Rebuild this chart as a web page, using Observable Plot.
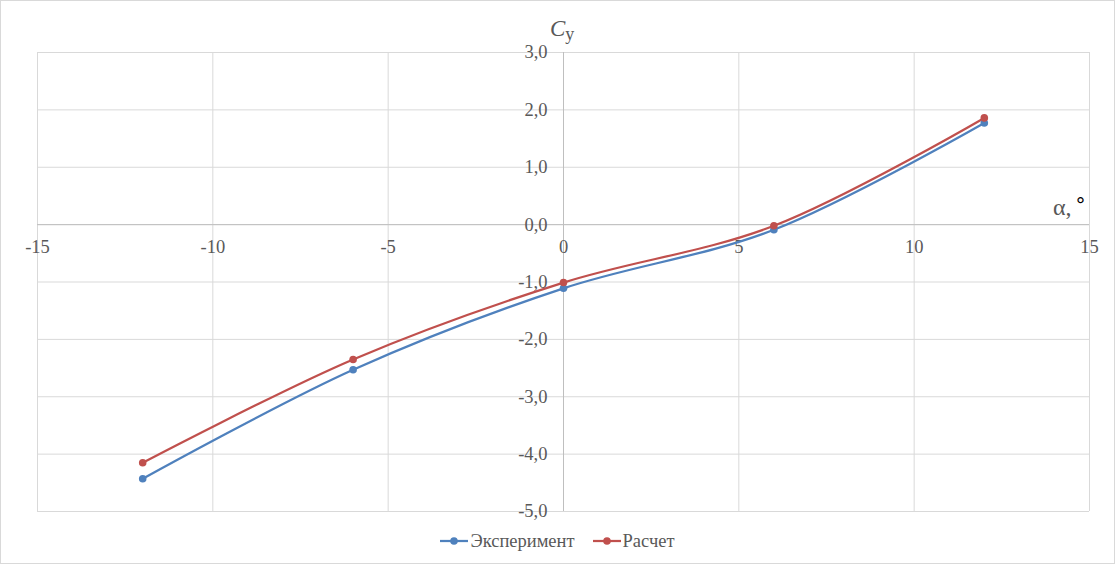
<!DOCTYPE html>
<html><head><meta charset="utf-8">
<script src="https://cdn.jsdelivr.net/npm/d3@7"></script>
<script src="https://cdn.jsdelivr.net/npm/@observablehq/plot@0.6"></script>
<style>
html,body{margin:0;padding:0;background:#fff;}
#wrap{position:relative;width:1113px;height:562px;border:1px solid #d9d9d9;overflow:hidden;background:#fff;}
#legend{position:absolute;left:0;top:523px;width:1113px;height:34px;display:flex;justify-content:center;align-items:center;gap:18px;font-family:"Liberation Serif","Times New Roman",serif;font-size:18.5px;color:#595959;}
.item{display:flex;align-items:center;gap:2px;}
</style></head>
<body>
<div id="wrap"><div id="chart"></div><div id="legend"></div></div>
<script>
const alpha = [-12, -6, 0, 6, 12];
const experiment = [-4.43, -2.53, -1.11, -0.09, 1.77];
const calculation = [-4.15, -2.35, -1.01, -0.02, 1.86];
const seriesNames = ["Эксперимент", "Расчет"];
const seriesColors = ["#4f81bd", "#c0504d"];
const xTicks = [-15, -10, -5, 0, 5, 10, 15];
const yTicks = [-5, -4, -3, -2, -1, 0, 1, 2, 3];
const yTickLabels = ["-5,0", "-4,0", "-3,0", "-2,0", "-1,0", "0,0", "1,0", "2,0", "3,0"];

const serif = "'Liberation Serif','Times New Roman',serif";
const rows = [];
alpha.forEach((a, i) => {
  rows.push({a, v: experiment[i], s: seriesNames[0]});
});
alpha.forEach((a, i) => {
  rows.push({a, v: calculation[i], s: seriesNames[1]});
});
const yLabelRows = yTicks.map((t, i) => ({t, label: yTickLabels[i]}));

const plot = Plot.plot({
  width: 1113,
  height: 524,
  marginLeft: 36,
  marginRight: 25,
  marginTop: 51,
  marginBottom: 14,
  style: {fontFamily: serif, background: "#fff"},
  x: {domain: [-15, 15], axis: null},
  y: {domain: [-5, 3], axis: null},
  color: {domain: seriesNames, range: seriesColors},
  marks: [
    Plot.ruleX(xTicks, {stroke: "#d9d9d9", strokeWidth: 1}),
    Plot.ruleY(yTicks, {stroke: "#d9d9d9", strokeWidth: 1}),
    Plot.ruleX([0], {stroke: "#bfbfbf", strokeWidth: 1}),
    Plot.ruleY([0], {stroke: "#bfbfbf", strokeWidth: 1}),
    Plot.text(xTicks, {x: d => d, y: 0, dy: 22, text: d => String(d), fill: "#595959", fontSize: 18.5}),
    Plot.text(yLabelRows, {x: 0, y: "t", dx: -16, textAnchor: "end", text: "label", fill: "#595959", fontSize: 18.5}),
    Plot.line(rows, {x: "a", y: "v", z: "s", stroke: "s", strokeWidth: 2.25, curve: "catmull-rom"}),
    Plot.dot(rows, {x: "a", y: "v", fill: "s", r: 3.8, stroke: "none"})
  ]
});
document.getElementById("chart").appendChild(plot);

const sx = plot.scale("x"), sy = plot.scale("y");
const svg = d3.select(plot);
svg.selectAll("text").style("font-family", serif);
// Y axis title C_y
const ty = svg.append("text").attr("x", sx.apply(0) - 13).attr("y", sy.apply(3) - 16)
  .attr("text-anchor", "start")
  .attr("fill", "#595959").style("font-family", serif);
ty.append("tspan").text("C").style("font-style", "italic").style("font-size", "23px");
ty.append("tspan").text("у").attr("dy", 4).attr("dx", 0).style("font-size", "18px");
// X axis title
const tx = svg.append("text").attr("x", sx.apply(14) - 1).attr("y", sy.apply(0) - 9)
  .attr("text-anchor", "start")
  .attr("fill", "#595959").style("font-family", serif).style("font-size", "24px");
tx.append("tspan").text("α,");
tx.append("tspan").text("°").attr("fill", "#000").attr("dx", 4).attr("dy", -3).style("font-family", "'DejaVu Sans',sans-serif").style("font-size", "20px");

// Legend
const leg = document.getElementById("legend");
seriesNames.forEach((n, i) => {
  const it = document.createElement("div");
  it.className = "item";
  it.innerHTML = `<svg width="28" height="10"><line x1="0" y1="5" x2="28" y2="5" stroke="${seriesColors[i]}" stroke-width="2.25"/><circle cx="14" cy="5" r="3.8" fill="${seriesColors[i]}"/></svg><span>${n}</span>`;
  leg.appendChild(it);
});
</script>
</body></html>
